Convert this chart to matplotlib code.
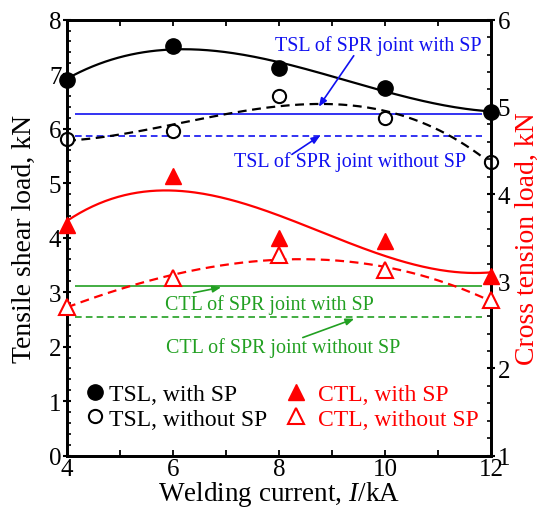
import numpy as np
import matplotlib
matplotlib.use("Agg")
import matplotlib.pyplot as plt
from matplotlib.lines import Line2D
from matplotlib.ticker import MultipleLocator

plt.rcParams['font.family'] = ['Liberation Serif', 'DejaVu Serif']
plt.rcParams['mathtext.fontset'] = 'custom'
plt.rcParams['mathtext.it'] = 'Liberation Serif:italic'
plt.rcParams['mathtext.rm'] = 'Liberation Serif'

# Data
current = [4, 6, 8, 10, 12]
tsl_with_sp = [6.90, 7.52, 7.12, 6.75, 6.30]
tsl_without_sp = [5.81, 5.95, 6.60, 6.20, 5.39]
ctl_with_sp = [3.65, 4.21, 3.50, 3.46, 3.06]
ctl_without_sp = [2.71, 3.04, 3.30, 3.13, 2.78]

tsl_spr_with_sp = 6.27
tsl_spr_without_sp = 5.87
ctl_spr_with_sp = 2.95
ctl_spr_without_sp = 2.59

x_ticks = [4, 6, 8, 10, 12]
left_ticks = [0, 1, 2, 3, 4, 5, 6, 7, 8]
right_ticks = [1, 2, 3, 4, 5, 6]

fig = plt.figure(figsize=(5.42, 5.10), dpi=100)
ax = fig.add_axes([0.1236, 0.1045, 0.7823, 0.855])
ax2 = ax.twinx()

xs = np.linspace(4, 12, 200)
def fit(y):
    return np.polyval(np.polyfit(current, y, 3), xs)

# TSL (left axis)
ax.plot(xs, fit(tsl_with_sp), color='black', lw=1.6, zorder=3)
ax.plot(xs, fit(tsl_without_sp), color='black', lw=1.6, ls=(0, (4, 2.5)), zorder=3)
ax.plot(current, tsl_with_sp, 'o', color='black', ms=11, clip_on=False, zorder=5)
ax.plot(current, tsl_without_sp, 'o', mfc='white', mec='black', mew=1.5, ms=9.5,
        clip_on=False, zorder=5)

blue = '#1010f0'
ax.hlines(tsl_spr_with_sp, 4.15, 11.83, color=blue, lw=1.2, zorder=2)
ax.hlines(tsl_spr_without_sp, 4.15, 11.83, color=blue, lw=1.2, ls=(0, (4, 2.5)), zorder=2)
ax.text(9.87, 7.54, 'TSL of SPR joint with SP', color=blue, fontsize=14.4,
        ha='center', va='center', zorder=6)
ax.annotate('', xy=(8.72, 6.36), xytext=(9.44, 7.38),
            arrowprops=dict(arrowstyle='-|>,head_length=0.5,head_width=0.2', color=blue, lw=1.2))
ax.text(9.34, 5.40, 'TSL of SPR joint without SP', color=blue, fontsize=14.4,
        ha='center', va='center', zorder=6)
ax.annotate('', xy=(8.82, 5.90), xytext=(8.20, 5.50),
            arrowprops=dict(arrowstyle='-|>,head_length=0.5,head_width=0.2', color=blue, lw=1.2))

green = '#22a022'
ax.text(7.82, 2.79, 'CTL of SPR joint with SP', color=green, fontsize=14.4,
        ha='center', va='center', zorder=6)
ax.annotate('', xy=(6.96, 3.10), xytext=(6.34, 2.98),
            arrowprops=dict(arrowstyle='-|>,head_length=0.5,head_width=0.2', color=green, lw=1.2))
ax.text(8.08, 1.99, 'CTL of SPR joint without SP', color=green, fontsize=14.4,
        ha='center', va='center', zorder=6)
ax.annotate('', xy=(9.47, 2.53), xytext=(8.40, 2.15),
            arrowprops=dict(arrowstyle='-|>,head_length=0.5,head_width=0.2', color=green, lw=1.2))

# CTL (right axis)
red = '#ff0000'
ax2.hlines(ctl_spr_with_sp, 4.15, 11.83, color=green, lw=1.2, zorder=2)
ax2.hlines(ctl_spr_without_sp, 4.15, 11.83, color=green, lw=1.2, ls=(0, (4, 2.5)), zorder=2)
ax2.plot(xs, fit(ctl_with_sp), color=red, lw=1.6, zorder=3)
ax2.plot(xs, fit(ctl_without_sp), color=red, lw=1.6, ls=(0, (4, 2.5)), zorder=3)
ax2.plot(current, ctl_with_sp, '^', color=red, ms=11, clip_on=False, zorder=5)
ax2.plot(current, ctl_without_sp, '^', mfc='white', mec=red, mew=1.5, ms=11,
         clip_on=False, zorder=5)

ax.set_xlim(4, 12)
ax.set_ylim(0, 8)
ax2.set_ylim(1, 6)
ax.set_xticks(x_ticks)
ax.set_yticks(left_ticks)
ax2.set_yticks(right_ticks)
ax.xaxis.set_minor_locator(MultipleLocator(1))
ax.yaxis.set_minor_locator(MultipleLocator(0.2))
ax2.yaxis.set_minor_locator(MultipleLocator(0.2))

for a in (ax, ax2):
    for s in a.spines.values():
        s.set_linewidth(2)
ax.tick_params(axis='x', which='both', direction='in', top=True, labelsize=18,
               pad=2, length=4.3, width=1.3)
ax.tick_params(axis='y', which='major', direction='inout', length=6, width=1.5,
               labelsize=18, pad=1)
ax.tick_params(axis='y', which='minor', direction='in', length=2.8, width=1.2)
ax2.tick_params(axis='y', which='major', direction='inout', length=6, width=1.5,
                labelsize=18, pad=2)
ax2.tick_params(axis='y', which='minor', direction='in', length=2.8, width=1.2)

ax.set_xlabel(r'Welding current, $I$/kA', fontsize=19.5, va='bottom')
ax.set_ylabel('Tensile shear load, kN', fontsize=20)
ax2.set_ylabel('Cross tension load, kN', fontsize=20, color=red)
ax.xaxis.set_label_coords(0.5, -0.1195)
ax.yaxis.set_label_coords(-0.072, 0.5)
ax2.yaxis.set_label_coords(1.057, 0.5)

tsl_handles = [
    Line2D([], [], ls='none', marker='o', color='black', ms=11),
    Line2D([], [], ls='none', marker='o', mfc='white', mec='black', mew=1.5, ms=9.5),
]
ctl_handles = [
    Line2D([], [], ls='none', marker='^', color=red, ms=11),
    Line2D([], [], ls='none', marker='^', mfc='white', mec=red, mew=1.5, ms=11),
]
tsl_labels = ['TSL, with SP', 'TSL, without SP']
ctl_labels = ['CTL, with SP', 'CTL, without SP']
leg1 = ax2.legend(tsl_handles, tsl_labels, loc='center left', bbox_to_anchor=(0.042, 0.1126),
                  frameon=False, fontsize=17, handlelength=0.9, handletextpad=0.12,
                  labelspacing=0.12, borderpad=0, borderaxespad=0, labelcolor='black')
ax2.add_artist(leg1)
ax2.legend(ctl_handles, ctl_labels, loc='center left', bbox_to_anchor=(0.514, 0.1126),
           frameon=False, fontsize=17, handlelength=0.9, handletextpad=0.5,
           labelspacing=0.12, borderpad=0, borderaxespad=0, labelcolor=red)

fig.savefig('out.png', dpi=100)
